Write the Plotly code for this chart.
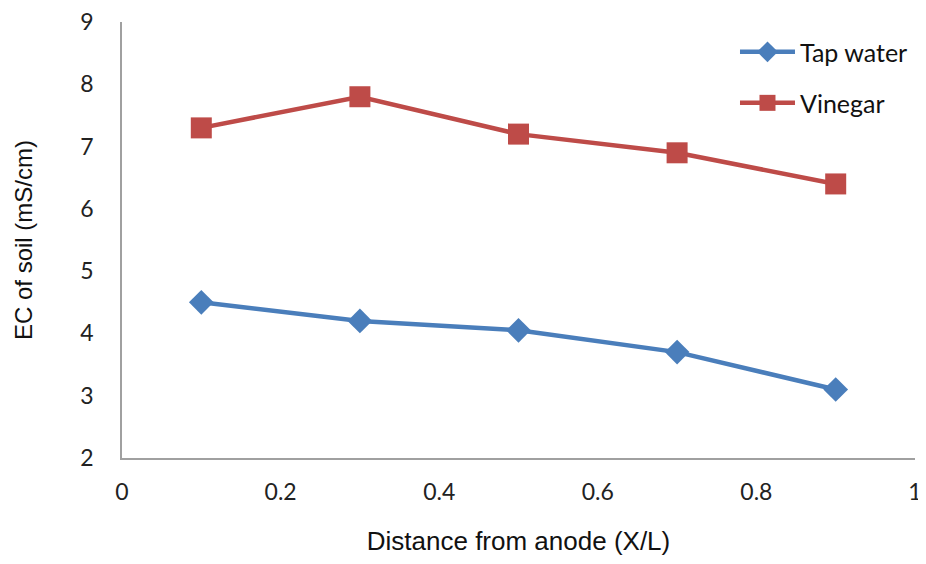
import plotly.graph_objects as go

x_vals = [0.1, 0.3, 0.5, 0.7, 0.9]
tap_water = [4.5, 4.2, 4.05, 3.7, 3.1]
vinegar = [7.3, 7.8, 7.2, 6.9, 6.4]
x_ticks = [0, 0.2, 0.4, 0.6, 0.8, 1]
x_tick_labels = ["0", "0.2", "0.4", "0.6", "0.8", "1"]
y_ticks = [2, 3, 4, 5, 6, 7, 8, 9]

fig = go.Figure()
fig.add_trace(go.Scatter(
    x=x_vals, y=tap_water, name="Tap water", mode="lines+markers",
    line=dict(color="#4A7EBB", width=4.5),
    marker=dict(symbol="diamond", size=19, color="#4A7EBB"),
    legend="legend",
))
fig.add_trace(go.Scatter(
    x=x_vals, y=vinegar, name="Vinegar", mode="lines+markers",
    line=dict(color="#BE4B48", width=4.5),
    marker=dict(symbol="square", size=21, color="#BE4B48"),
    legend="legend2",
))

tick_font = dict(family="Lato, Open Sans, sans-serif", size=23, color="#222222")
legend_font = dict(family="Lato, Open Sans, sans-serif", size=25, color="#111111")
fig.update_layout(
    width=918, height=548,
    margin=dict(l=114, r=11, t=14, b=98),
    paper_bgcolor="white", plot_bgcolor="white",
    showlegend=True,
    xaxis=dict(
        range=[0, 1], tickvals=x_ticks, ticktext=x_tick_labels,
        showgrid=False, zeroline=False, showline=True, linecolor="#A0A0A0", linewidth=1.5,
        ticks="outside", ticklen=13, tickcolor="rgba(0,0,0,0)",
        tickfont=tick_font, ticklabeloverflow="allow", automargin=False,
        title=dict(text="Distance from anode (X/L)", standoff=33,
                   font=dict(family="Liberation Sans, Arial, sans-serif", size=26, color="#111111")),
    ),
    yaxis=dict(
        range=[2, 9], tickvals=y_ticks,
        showgrid=False, zeroline=False, showline=True, linecolor="#A0A0A0", linewidth=1.5,
        ticks="outside", ticklen=22, tickcolor="rgba(0,0,0,0)",
        tickfont=tick_font, ticklabeloverflow="allow", automargin=False,
        title=dict(text="EC of soil (mS/cm)", standoff=41,
                   font=dict(family="Liberation Sans, Arial, sans-serif", size=24, color="#111111")),
    ),
    legend=dict(x=0.773, y=0.931, xanchor="left", yanchor="middle", bgcolor="rgba(0,0,0,0)",
                font=legend_font, itemwidth=55),
    legend2=dict(x=0.773, y=0.814, xanchor="left", yanchor="middle", bgcolor="rgba(0,0,0,0)",
                 font=legend_font, itemwidth=55),
)

fig.write_html("out.html")
